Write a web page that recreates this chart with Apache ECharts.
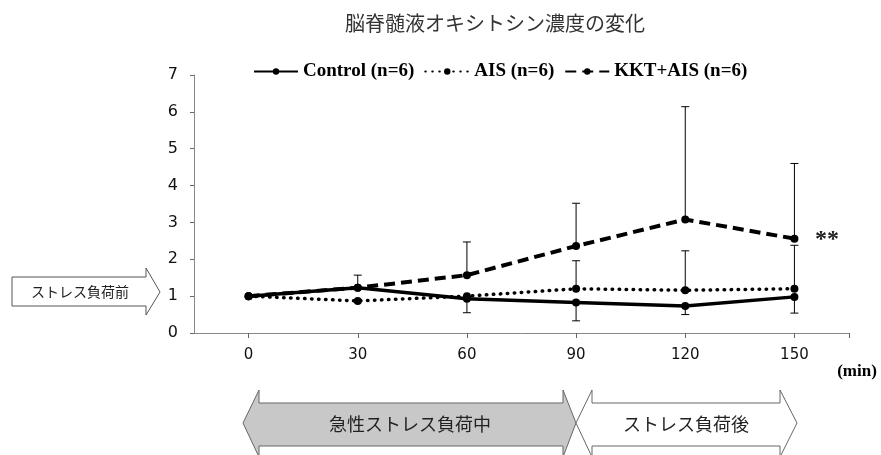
<!DOCTYPE html>
<html>
<head>
<meta charset="utf-8">
<script src="https://cdn.jsdelivr.net/npm/echarts@6/dist/echarts.min.js"></script>
<style>
  html, body { margin: 0; padding: 0; background: #fff; }
  #chart { width: 881px; height: 455px; }
</style>
</head>
<body>
<div id="chart"></div>
<script>
// 時間 (min)
const minutes = [0, 30, 60, 90, 120, 150];
const xLabels = [0, 30, 60, 90, 120, 150];

// 平均値
const control = [1.0, 1.23, 0.93, 0.83, 0.73, 0.98];
const ais = [1.0, 0.87, 1.0, 1.2, 1.16, 1.2];
const kktAis = [1.0, 1.23, 1.57, 2.36, 3.08, 2.56];

// エラーバー端
const controlLower = [null, null, 0.55, 0.33, 0.50, 0.54];
const aisUpper = [null, null, null, 1.96, 2.23, 2.38];
const kktUpper = [null, 1.57, 2.47, 3.52, 6.14, 4.6];

const chart = echarts.init(document.getElementById('chart'), null, { renderer: 'canvas' });

function pairs(values) {
  return minutes.map((m, i) => [m, values[i]]);
}

// エラーバー用データ [x, from, to]
function errData(mean, end) {
  const out = [];
  minutes.forEach((m, i) => {
    if (end[i] != null) out.push([m, mean[i], end[i]]);
  });
  return out;
}

function renderErr(params, api) {
  const p0 = api.coord([api.value(0), api.value(1)]);
  const p1 = api.coord([api.value(0), api.value(2)]);
  const cap = 4;
  const style = { stroke: '#000', lineWidth: 1 };
  return {
    type: 'group',
    children: [
      { type: 'line', shape: { x1: p0[0], y1: p0[1], x2: p1[0], y2: p1[1] }, style },
      { type: 'line', shape: { x1: p1[0] - cap, y1: p1[1], x2: p1[0] + cap, y2: p1[1] }, style }
    ]
  };
}

const lineBase = {
  type: 'line',
  symbol: 'circle',
  symbolSize: 8,
  itemStyle: { color: '#000' },
  z: 3
};

const option = {
  animation: false,
  title: {
    text: '脳脊髄液オキシトシン濃度の変化',
    left: 490,
    textAlign: 'center',
    top: 8,
    textStyle: { fontFamily: 'Noto Sans CJK JP', fontSize: 20, fontWeight: 'normal', color: '#333' }
  },
  legend: {
    left: 248,
    top: 57,
    itemWidth: 44,
    itemHeight: 8,
    itemGap: 10,
    textStyle: { fontFamily: 'Liberation Serif', fontSize: 19, fontWeight: 'bold', color: '#000' },
    data: ['Control (n=6)', 'AIS (n=6)', 'KKT+AIS (n=6)']
  },
  grid: { left: 194, right: 32, top: 75, bottom: 122 },
  xAxis: {
    type: 'value',
    min: -15,
    max: 165,
    axisLine: { lineStyle: { color: '#888', width: 1 } },
    axisTick: { show: true, inside: false, length: 5, lineStyle: { color: '#666' }, customValues: [0, 30, 60, 90, 120, 150, 165] },
    axisLabel: { customValues: xLabels, margin: 15, fontFamily: 'DejaVu Sans', fontSize: 15, color: '#111' },
    splitLine: { show: false }
  },
  yAxis: {
    type: 'value',
    min: 0,
    max: 7,
    interval: 1,
    axisLine: { show: true, onZero: false, lineStyle: { color: '#888', width: 1 } },
    axisTick: { show: true, length: 4, lineStyle: { color: '#666' } },
    axisLabel: { margin: 16, fontFamily: 'DejaVu Sans', fontSize: 16, color: '#111' },
    splitLine: { show: false }
  },
  series: [
    Object.assign({}, lineBase, {
      name: 'Control (n=6)',
      data: pairs(control),
      lineStyle: { color: '#000', width: 3.5, type: 'solid' }
    }),
    Object.assign({}, lineBase, {
      name: 'AIS (n=6)',
      data: pairs(ais),
      lineStyle: { color: '#000', width: 3.5, type: [0.5, 6.5], cap: 'round' }
    }),
    Object.assign({}, lineBase, {
      name: 'KKT+AIS (n=6)',
      data: pairs(kktAis),
      lineStyle: { color: '#000', width: 4, type: [11, 6] }
    }),
    { type: 'custom', renderItem: renderErr, data: errData(control, controlLower), z: 2 },
    { type: 'custom', renderItem: renderErr, data: errData(ais, aisUpper), z: 2 },
    { type: 'custom', renderItem: renderErr, data: errData(kktAis, kktUpper), z: 2 }
  ],
  graphic: [
    // ストレス負荷前
    {
      type: 'polygon',
      shape: { points: [[12, 277], [146, 277], [146, 268], [160, 292], [146, 315], [146, 306], [12, 306]] },
      style: { fill: '#fff', stroke: '#555', lineWidth: 1 }
    },
    {
      type: 'text', x: 80, y: 292,
      style: { text: 'ストレス負荷前', fontFamily: 'Noto Sans CJK JP', fontSize: 14, fill: '#222', align: 'center', verticalAlign: 'middle' }
    },
    // 急性ストレス負荷中
    {
      type: 'polygon',
      shape: { points: [[243, 423], [259, 390], [259, 403], [563, 403], [563, 390], [576, 423], [563, 457], [563, 446], [259, 446], [259, 457]] },
      style: { fill: '#c8c8c8', stroke: '#666', lineWidth: 1 }
    },
    {
      type: 'text', x: 410, y: 424,
      style: { text: '急性ストレス負荷中', fontFamily: 'Noto Sans CJK JP', fontSize: 18, fill: '#222', align: 'center', verticalAlign: 'middle' }
    },
    // ストレス負荷後
    {
      type: 'polygon',
      shape: { points: [[576, 423], [592, 390], [592, 403], [780, 403], [780, 390], [797, 423], [780, 457], [780, 446], [592, 446], [592, 457]] },
      style: { fill: '#fff', stroke: '#666', lineWidth: 1 }
    },
    {
      type: 'text', x: 686, y: 424,
      style: { text: 'ストレス負荷後', fontFamily: 'Noto Sans CJK JP', fontSize: 18, fill: '#222', align: 'center', verticalAlign: 'middle' }
    },
    {
      type: 'text', x: 857, y: 372,
      style: { text: '(min)', fontFamily: 'Liberation Serif', fontSize: 17, fontWeight: 'bold', fill: '#000', align: 'center', verticalAlign: 'middle' }
    },
    {
      type: 'text', x: 827, y: 240,
      style: { text: '**', fontFamily: 'Liberation Serif', fontSize: 24, fontWeight: 'bold', fill: '#222', align: 'center', verticalAlign: 'middle' }
    }
  ]
};

chart.setOption(option);
</script>
</body>
</html>
